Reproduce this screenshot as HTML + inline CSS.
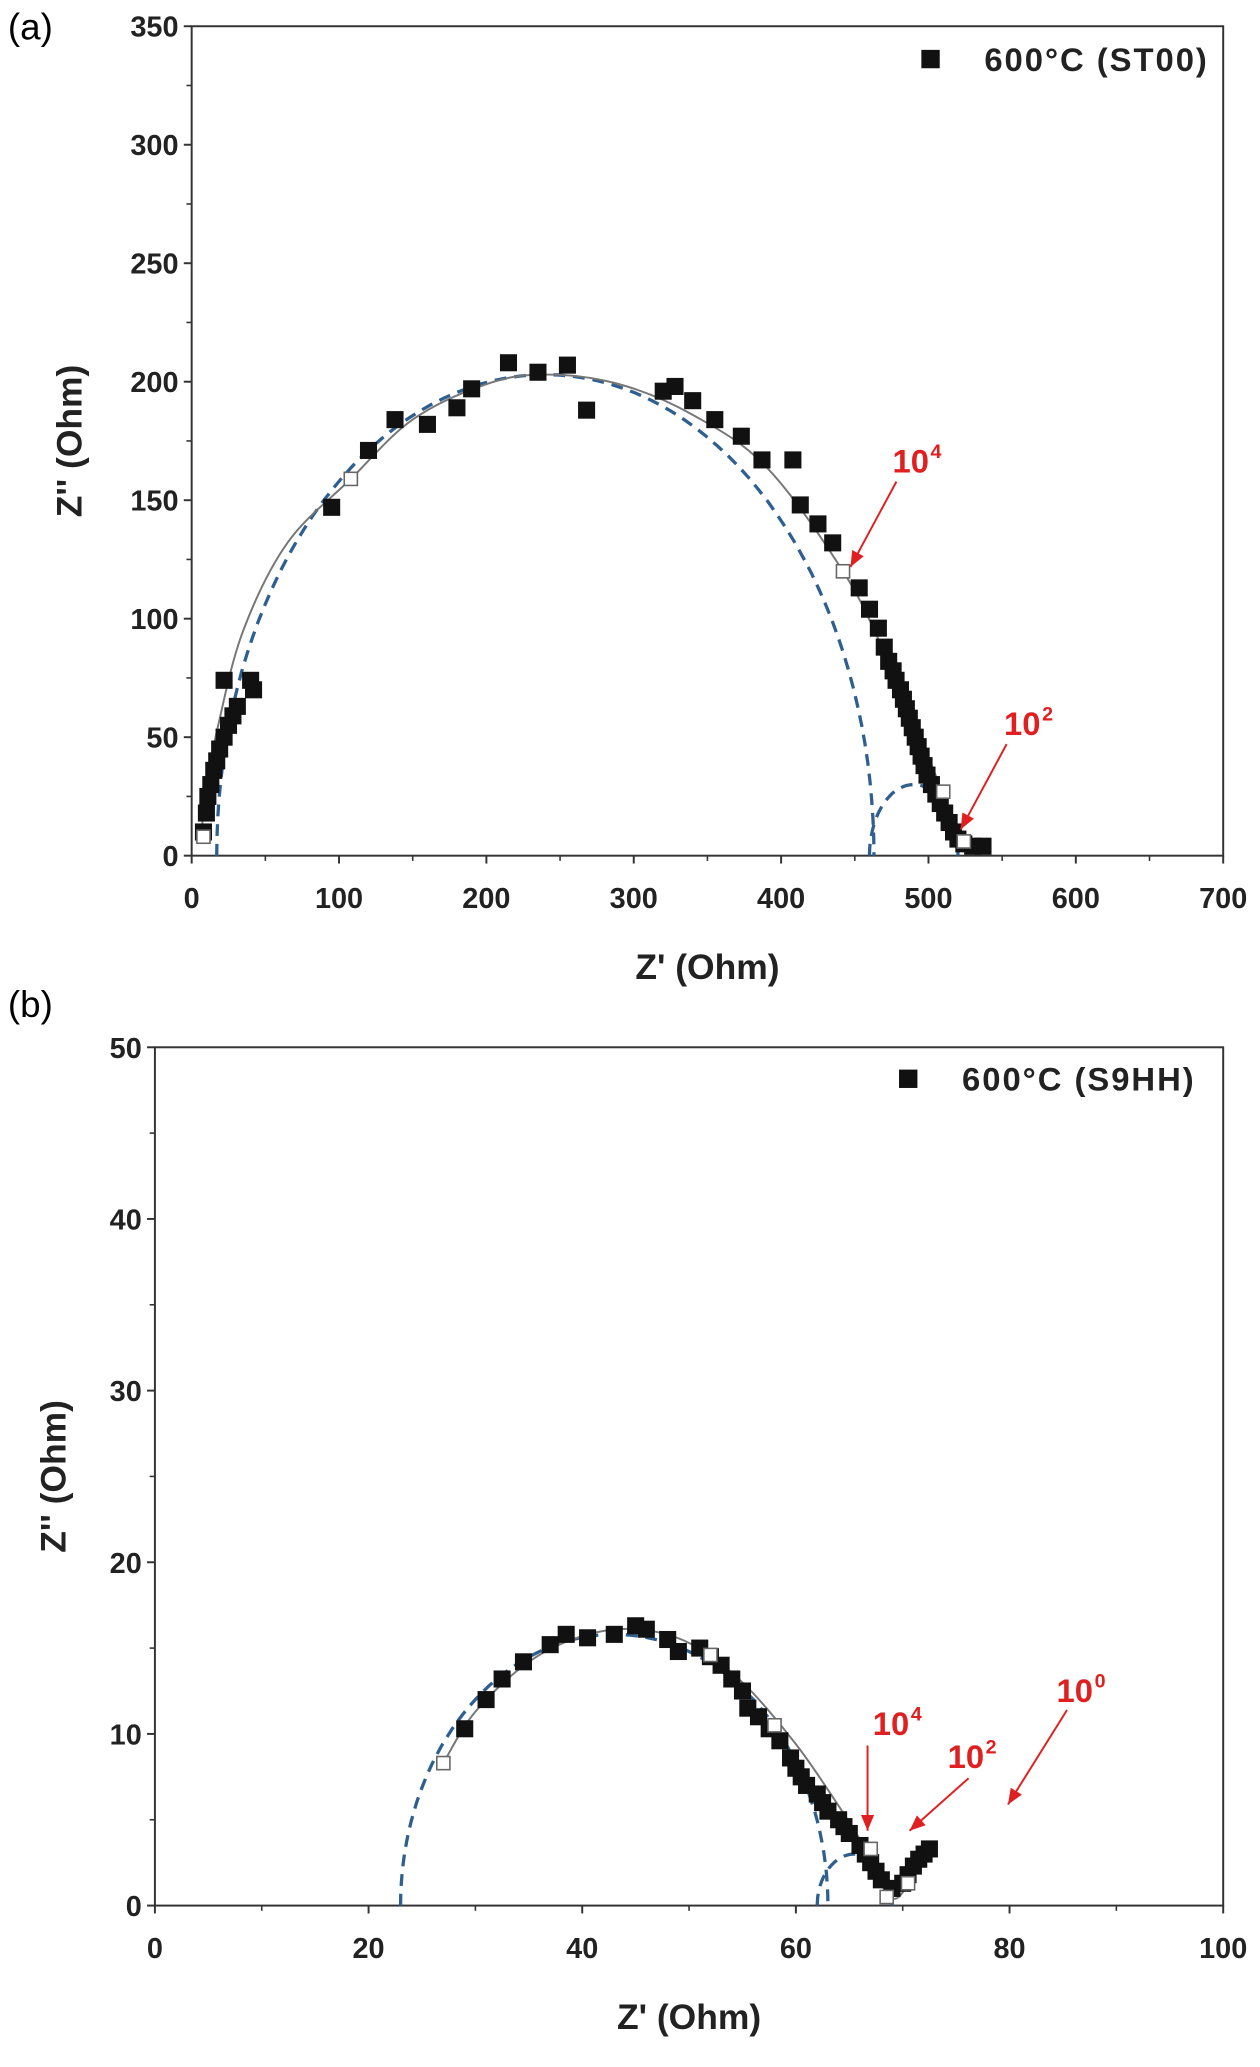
<!DOCTYPE html>
<html><head><meta charset="utf-8"><style>
html,body{margin:0;padding:0;background:#fff;}
svg{display:block;}
text{font-family:"Liberation Sans",Arial,sans-serif;}
</style></head><body>
<svg id="s" width="1260" height="2067" viewBox="0 0 960 1575" xmlns="http://www.w3.org/2000/svg">
<rect width="960" height="1575" fill="#fff"/>
<text x="6" y="30" font-size="28">(a)</text>
<text x="6" y="775" font-size="28">(b)</text>
<g id="g"></g>
</svg>
<script>
var g=document.getElementById('g'),NS='http://www.w3.org/2000/svg';
function el(t,a,txt){var e=document.createElementNS(NS,t);for(var k in a)e.setAttribute(k,a[k]);if(txt!=null)e.textContent=txt;g.appendChild(e);return e;}
function cr(pts){var d='M'+pts[0][0].toFixed(1)+' '+pts[0][1].toFixed(1);for(var i=0;i<pts.length-1;i++){var p0=pts[i-1]||pts[i],p1=pts[i],p2=pts[i+1],p3=pts[i+2]||p2;
 var c1=[p1[0]+(p2[0]-p0[0])/6,p1[1]+(p2[1]-p0[1])/6],c2=[p2[0]-(p3[0]-p1[0])/6,p2[1]-(p3[1]-p1[1])/6];
 d+='C'+c1[0].toFixed(1)+' '+c1[1].toFixed(1)+' '+c2[0].toFixed(1)+' '+c2[1].toFixed(1)+' '+p2[0].toFixed(1)+' '+p2[1].toFixed(1);}return d;}
function panel(P){
 var X=function(v){return P.l+(v-P.x0)/(P.x1-P.x0)*(P.r-P.l)},Y=function(v){return P.b-(v-P.y0)/(P.y1-P.y0)*(P.b-P.t)};
 el('rect',{x:P.l,y:P.t,width:P.r-P.l,height:P.b-P.t,fill:'none',stroke:'#333','stroke-width':1.5});
 for(var v=P.x0;v<=P.x1+1e-9;v+=P.xs){var x=X(v);el('line',{x1:x,y1:P.b,x2:x,y2:P.b+6,stroke:'#333','stroke-width':1.5});
  el('text',{x:x,y:P.b+40,'font-size':22,'font-weight':'bold','text-anchor':'middle',fill:'#222'},String(v));}
 for(var v=P.x0+P.xs/2;v<P.x1;v+=P.xs){var x=X(v);el('line',{x1:x,y1:P.b,x2:x,y2:P.b+4,stroke:'#333','stroke-width':1.2});}
 for(var v=P.y0;v<=P.y1+1e-9;v+=P.ys){var y=Y(v);el('line',{x1:P.l-6,y1:y,x2:P.l,y2:y,stroke:'#333','stroke-width':1.5});
  el('text',{x:P.l-10,y:y+8,'font-size':22,'font-weight':'bold','text-anchor':'end',fill:'#222'},String(v));}
 for(var v=P.y0+P.ys/2;v<P.y1;v+=P.ys){var y=Y(v);el('line',{x1:P.l-4,y1:y,x2:P.l,y2:y,stroke:'#333','stroke-width':1.2});}
 el('text',{x:(P.l+P.r)/2,y:P.b+94,'font-size':27,'font-weight':'bold','text-anchor':'middle',fill:'#222'},"Z' (Ohm)");
 var cy=(P.t+P.b)/2;el('text',{x:P.yl,y:cy,'font-size':27,'font-weight':'bold','text-anchor':'middle',fill:'#222',transform:'rotate(-90 '+P.yl+' '+cy+')'},"Z'' (Ohm)");
 P.arcs.forEach(function(a){var d='';for(var i=0;i<=80;i++){var th=Math.PI-i/80*Math.PI;var x=X(a[0]+a[1]*Math.cos(th)),y=Y(a[2]*Math.sin(th));d+=(i?'L':'M')+x.toFixed(1)+' '+y.toFixed(1);}
  el('path',{d:d,fill:'none',stroke:'#2e5f8f','stroke-width':2.5,'stroke-dasharray':'9 6'});});
 el('path',{d:cr(P.fit.map(function(p){return [X(p[0]),Y(p[1])]})),fill:'none',stroke:'#777','stroke-width':1.5});
 P.pts.forEach(function(p){el('rect',{x:X(p[0])-6.5,y:Y(p[1])-6.5,width:13,height:13,fill:'#111'});});
 P.open.forEach(function(p){el('rect',{x:X(p[0])-5,y:Y(p[1])-5,width:10,height:10,fill:'#fff',stroke:'#666','stroke-width':1.2});});
 el('rect',{x:P.lg[0]-7,y:P.lg[1]-7,width:14,height:14,fill:'#111'});
 el('text',{x:P.lg[0]+41,y:P.lg[1]+9,'font-size':25,'font-weight':'bold',fill:'#222','letter-spacing':'1.5'},P.lgt);
 P.arr.forEach(function(a){
  el('text',{x:a[0],y:a[1],'font-size':25,'font-weight':'bold',fill:'#e02020'},'10');
  el('text',{x:a[0]+29,y:a[1]-11,'font-size':15,'font-weight':'bold',fill:'#e02020'},a[2]);
  var x1=a[3],y1=a[4],x2=a[5],y2=a[6];el('line',{x1:x1,y1:y1,x2:x2,y2:y2,stroke:'#e02020','stroke-width':1.5});
  var ang=Math.atan2(y2-y1,x2-x1),L=12,w=5;
  var p=[x2,y2,x2-L*Math.cos(ang)+w*Math.sin(ang),y2-L*Math.sin(ang)-w*Math.cos(ang),x2-L*Math.cos(ang)-w*Math.sin(ang),y2-L*Math.sin(ang)+w*Math.cos(ang)];
  el('polygon',{points:p.join(' '),fill:'#e02020'});});
}
panel({l:146,r:932,t:20,b:652,x0:0,x1:700,xs:100,y0:0,y1:350,ys:50,yl:62,
 arcs:[[240,223,203],[490,30,30]],
 fit:[[6,6],[10,28],[18,55],[35,95],[65,132],[108,159],[150,184],[200,199],[240,203],[290,199],[340,186],[390,164],[442,120],[470,86],[492,54],[506,32],[514,18],[519,9],[522,4]],
 pts:[[8,10],[10,18],[11,25],[13,30],[15,36],[17,40],[19,45],[22,50],[25,55],[28,59],[31,63],[22,74],[40,74],[42,70],[95,147],[120,171],[138,184],[160,182],[180,189],[190,197],[215,208],[235,204],[255,207],[268,188],[320,196],[328,198],[340,192],[355,184],[373,177],[387,167],[408,167],[413,148],[425,140],[435,132],[453,113],[460,104],[466,96],[470,88],[473,82],[476,78],[478,74],[481,70],[483,66],[485,62],[487,58],[489,54],[491,50],[493,46],[495,42],[497,38],[499,34],[502,30],[505,26],[508,22],[511,18],[514,14],[517,10],[520,7],[524,5],[530,4],[537,4]],
 open:[[8,8],[108,159],[442,120],[510,27],[524,6]],
 lg:[709,45],lgt:'600°C (ST00)',
 arr:[[680,360,'4',683,367,648,432],[765,560,'2',767,567,732,632]]});
panel({l:118,r:932,t:798,b:1452,x0:0,x1:100,xs:20,y0:0,y1:50,ys:10,yl:50,
 arcs:[[43,20,15.8],[65.5,3.5,3]],
 fit:[[27,8.3],[30,11.3],[35,14.2],[40,15.7],[45,16.1],[50,15.3],[55,13],[60,9.4],[64,5.8],[66.5,3.3],[68.2,1],[69.3,0.4],[70.5,1.2],[72,2.8]],
 pts:[[29,10.3],[31,12],[32.5,13.2],[34.5,14.2],[37,15.2],[38.5,15.8],[40.5,15.6],[43,15.8],[45,16.3],[46,16.1],[48,15.5],[49,14.8],[51,15],[52,14.5],[53,14],[54,13.2],[55,12.5],[55.5,11.5],[56.5,11],[57.5,10.3],[58.5,9.6],[59.5,8.6],[60,8],[60.5,7.5],[61,7],[62,6.5],[62.5,6],[63,5.5],[64,5],[64.5,4.6],[65,4.2],[66,3.5],[66.5,3],[67,2.5],[67.5,2],[68,1.5],[69,1],[70,1.3],[70.5,1.8],[71,2.3],[71.5,2.7],[72,3],[72.5,3.3]],
 open:[[27,8.3],[52,14.6],[58,10.5],[67,3.3],[68.5,0.5],[70.5,1.3]],
 lg:[692,822],lgt:'600°C (S9HH)',
 arr:[[665,1322,'4',661,1330,661,1395],[722,1347,'2',738,1355,693,1395],[805,1297,'0',813,1303,768,1375]]});
</script>
</body></html>
